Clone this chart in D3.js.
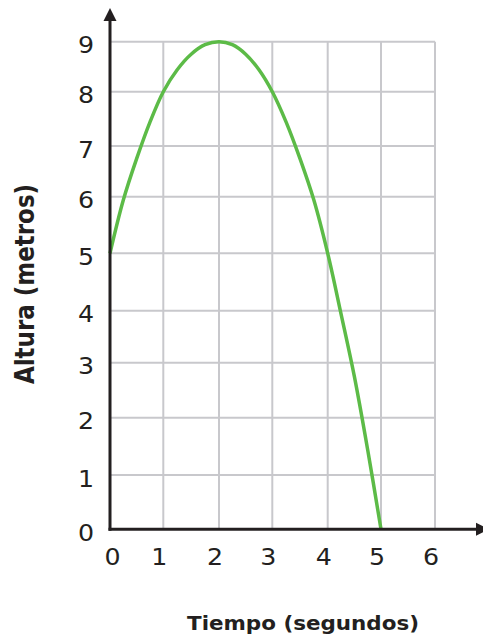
<!DOCTYPE html>
<html><head><meta charset="utf-8">
<script src="https://cdn.jsdelivr.net/npm/d3@7"></script>
<style>html,body{margin:0;padding:0;background:#fff;}svg{display:block;}</style>
</head><body>
<svg id="c" width="483" height="635"></svg>
<script>
const xTicks = [0,1,2,3,4,5,6];
const yTicks = [0,1,2,3,4,5,6,7,8,9];
const timeValues   = [0,0.25,0.5,0.75,1,1.25,1.5,1.75,2,2.25,2.5,2.75,3,3.25,3.5,3.75,4,4.25,4.5,4.75,5];
const heightValues = [5,5.94,6.75,7.44,8,8.44,8.75,8.94,9,8.94,8.75,8.44,8,7.44,6.75,5.94,5,3.94,2.75,1.44,0];
const xTitle = "Tiempo (segundos)";
const yTitle = "Altura (metros)";

const svg = d3.select("#c");
const font = "'DejaVu Sans', Verdana, sans-serif";
const x = d3.scaleLinear().domain(xTicks).range([110,163.3,219,272.3,327.7,381,435]);
const y = d3.scaleLinear().domain(yTicks).range([529.3,475,417.7,362.7,310.7,253.3,196.7,146,91.7,41.7]);

const grid = svg.append("g").attr("stroke","#c8c8cc").attr("stroke-width",2);
grid.selectAll("line.v").data(xTicks.slice(1)).join("line")
  .attr("x1",d=>x(d)).attr("x2",d=>x(d)).attr("y1",y(9)).attr("y2",y(0));
grid.selectAll("line.h").data(yTicks.slice(1)).join("line")
  .attr("x1",x(0)).attr("x2",x(6)).attr("y1",d=>y(d)).attr("y2",d=>y(d));

const line = d3.line().x((d,i)=>x(timeValues[i])).y(d=>y(d)).curve(d3.curveCatmullRom);
svg.append("path").datum(heightValues).attr("d",line)
  .attr("fill","none").attr("stroke","#5cbb47").attr("stroke-width",3.5);

const axisColor = "#231f20";
// y axis
svg.append("line").attr("x1",x(0)).attr("x2",x(0)).attr("y1",y(0)+1.5).attr("y2",18)
  .attr("stroke",axisColor).attr("stroke-width",3);
svg.append("path").attr("d",`M${x(0)},8 L${x(0)-6.5},21 L${x(0)+6.5},21 Z`).attr("fill",axisColor);
// x axis
svg.append("line").attr("x1",x(0)-1.5).attr("x2",478).attr("y1",y(0)).attr("y2",y(0))
  .attr("stroke",axisColor).attr("stroke-width",3);
svg.append("path").attr("d",`M489,${y(0)} L476,${y(0)-6.5} L476,${y(0)+6.5} Z`).attr("fill",axisColor);

svg.selectAll("text.xt").data(xTicks).join("text")
  .attr("transform",d=>`translate(${x(d)+(d===0?2.5:-4)},565) scale(1.1,1)`).attr("text-anchor","middle")
  .attr("font-family",font).attr("font-size",23).attr("fill","#231f20").text(d=>d);
svg.selectAll("text.yt").data(yTicks).join("text")
  .attr("transform",d=>`translate(94,${y(d)+11.5}) scale(1.1,1)`).attr("text-anchor","end")
  .attr("font-family",font).attr("font-size",23).attr("fill","#231f20").text(d=>d);

svg.append("text").attr("transform","translate(303,630) scale(1.1,1)").attr("text-anchor","middle")
  .attr("font-family",font).attr("font-weight","bold").attr("font-size",19.5).attr("fill","#231f20").text(xTitle);
svg.append("text").attr("transform","translate(34,284) rotate(-90) scale(1,1.15)").attr("text-anchor","middle")
  .attr("font-family",font).attr("font-weight","bold").attr("font-size",23).attr("fill","#231f20").text(yTitle);
</script>
</body></html>
